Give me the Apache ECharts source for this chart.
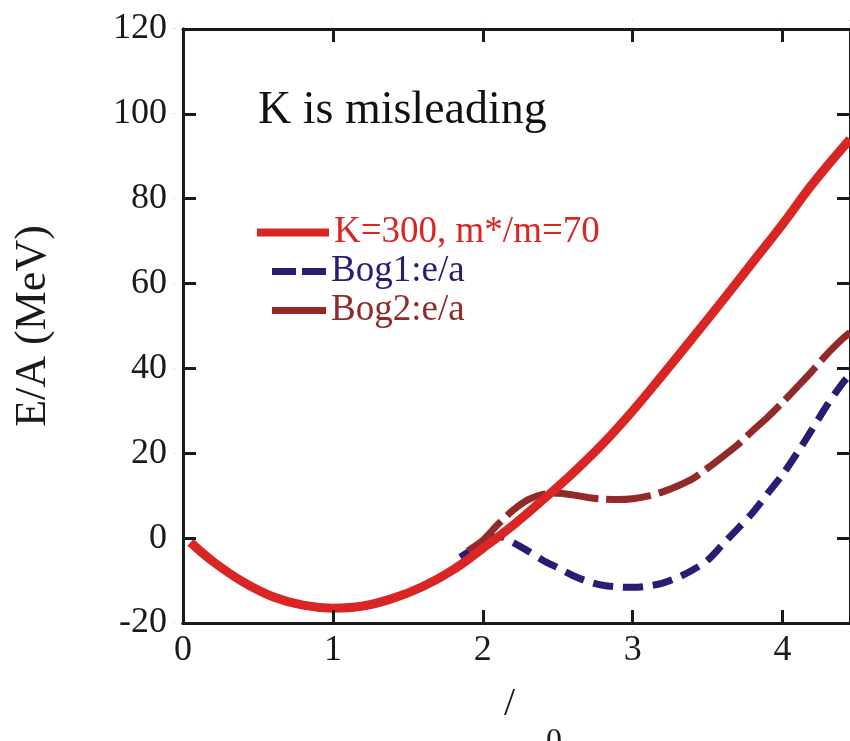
<!DOCTYPE html>
<html>
<head>
<meta charset="utf-8">
<script src="https://cdn.jsdelivr.net/npm/echarts@6/dist/echarts.min.js"></script>
<style>
  html, body { margin: 0; padding: 0; background: #fff; }
  #chart { width: 850px; height: 741px; }
</style>
</head>
<body>
<div id="chart"></div>
<script>
// Energy per nucleon vs. density ratio
const redName = 'K=300, m*/m=70';
const blueName = 'Bog1:e/a';
const brownName = 'Bog2:e/a';

const redX = [0.05, 0.2, 0.4, 0.6, 0.8, 1.0, 1.2, 1.4, 1.6, 1.8, 2.0, 2.2, 2.4, 2.6, 2.8, 3.0, 3.2, 3.4, 3.6, 3.8, 4.0, 4.2, 4.45];
const redY = [-1.0, -5.5, -10.3, -13.8, -15.8, -16.5, -16.0, -14.2, -11.4, -7.5, -2.4, 3.0, 9.0, 15.3, 22.2, 30.0, 38.5, 47.2, 56.0, 65.0, 74.0, 83.5, 94.0];

const blueX = [1.85, 1.95, 2.05, 2.12, 2.2, 2.3, 2.4, 2.5, 2.6, 2.7, 2.8, 2.9, 3.0, 3.1, 3.2, 3.3, 3.4, 3.5, 3.6, 3.7, 3.8, 3.9, 4.0, 4.1, 4.2, 4.3, 4.4, 4.45];
const blueY = [-4.5, -2.2, 0.0, 0.3, -1.0, -3.0, -5.2, -7.0, -8.8, -10.2, -11.1, -11.5, -11.6, -11.3, -10.6, -9.3, -7.5, -5.2, -1.5, 2.2, 6.0, 10.5, 15.0, 20.2, 25.8, 31.5, 36.5, 38.5];

const brownX = [1.9, 2.0, 2.1, 2.2, 2.3, 2.4, 2.5, 2.6, 2.7, 2.8, 2.9, 3.0, 3.1, 3.2, 3.3, 3.4, 3.5, 3.6, 3.7, 3.8, 3.9, 4.0, 4.1, 4.2, 4.3, 4.4, 4.45];
const brownY = [-3.0, -0.5, 3.2, 6.5, 9.0, 10.3, 10.6, 10.2, 9.6, 9.2, 9.1, 9.3, 9.9, 10.9, 12.3, 14.0, 16.5, 19.2, 22.0, 25.3, 28.5, 32.0, 35.7, 39.5, 43.5, 47.0, 48.5];

const xTicks = [0, 1, 2, 3, 4];
const yTicks = [-20, 0, 20, 40, 60, 80, 100, 120];

const RED = '#d92624';
const BLUE = '#2a1b73';
const BROWN = '#922a2a';
const INK = '#1a1a1a';
const SERIF = '"Liberation Serif", "Times New Roman", serif';

const pairs = (xs, ys) => xs.map((x, i) => [x, ys[i]]);

const xMin = xTicks[0];
const xMax = 4.45;
const yMin = yTicks[0];
const yMax = yTicks[yTicks.length - 1];

// plot frame in pixels
const GRID = { left: 183, right: 0, top: 29, bottom: 118 };
const W = 850, H = 741;
const plotW = W - GRID.left - GRID.right;
const plotH = H - GRID.top - GRID.bottom;

// inward tick marks on all four sides of the frame
const TICK_PX = 13;
const tickDx = TICK_PX * (xMax - xMin) / plotW;
const tickDy = TICK_PX * (yMax - yMin) / plotH;
const innerX = xTicks.filter(v => v > xMin && v < xMax);
const innerY = yTicks.filter(v => v > yMin && v < yMax);
const frameTicks = [
  ...innerX.map(v => [{ coord: [v, yMin] }, { coord: [v, yMin + tickDy] }]),
  ...innerX.map(v => [{ coord: [v, yMax] }, { coord: [v, yMax - tickDy] }]),
  ...innerY.map(v => [{ coord: [xMin, v] }, { coord: [xMin + tickDx, v] }]),
  ...innerY.map(v => [{ coord: [xMax, v] }, { coord: [xMax - tickDx, v] }])
];

const axisLine = () => ({ show: true, onZero: false, lineStyle: { color: INK, width: 3 } });
const tickInside = () => ({ show: true, inside: true, length: TICK_PX, lineStyle: { color: INK, width: 3 } });

// frame axes that carry the inward ticks (their own labels are kept tiny)
const tickXAxis = position => ({
  type: 'value', position: position, min: xMin, max: xMax, interval: 1,
  axisLine: axisLine(), axisTick: tickInside(), splitLine: { show: false },
  axisLabel: { show: true, fontSize: 1 }
});
const tickYAxis = position => ({
  type: 'value', position: position, min: yMin, max: yMax, interval: 20,
  axisLine: axisLine(), axisTick: tickInside(), splitLine: { show: false },
  axisLabel: { show: true, fontSize: 1 }
});

const chart = echarts.init(document.getElementById('chart'));

// legend entries drawn as short bars / dashes
const legendEntry = (name, left, top, width, height, icon, color) => ({
  data: [name], left: left, top: top, itemWidth: width, itemHeight: height,
  icon: icon, padding: 0, orient: 'vertical', itemGap: 0,
  textStyle: { color: color, fontFamily: SERIF, fontSize: 37 }
});

chart.setOption({
  animation: false,
  grid: Object.assign({ outerBoundsMode: 'none' }, GRID),
  title: [
    {
      text: 'K is misleading', left: 258, top: 88, padding: 0,
      textStyle: { color: '#111', fontFamily: SERIF, fontSize: 46, fontWeight: 'normal' }
    },
    {
      text: '/', left: 504, top: 684, padding: 0,
      textStyle: { color: INK, fontFamily: SERIF, fontSize: 40, fontWeight: 'normal' }
    },
    {
      text: '0', left: 546, top: 726, padding: 0,
      textStyle: { color: INK, fontFamily: SERIF, fontSize: 32, fontWeight: 'normal' }
    }
  ],
  xAxis: [
    {
      type: 'value', position: 'bottom', min: xMin, max: xMax, interval: 1,
      axisLine: axisLine(), axisTick: { show: false }, splitLine: { show: false },
      axisLabel: {
        show: true, margin: 10, color: INK, fontFamily: SERIF, fontSize: 36,
        formatter: v => (xTicks.includes(v) ? String(v) : '')
      }
    },
    tickXAxis('top'),
    tickXAxis('bottom')
  ],
  yAxis: [
    {
      type: 'value', position: 'left', min: yMin, max: yMax, interval: 20,
      axisLine: axisLine(), axisTick: { show: false }, splitLine: { show: false },
      axisLabel: { show: true, margin: 16, color: INK, fontFamily: SERIF, fontSize: 36 },
      name: 'E/A (MeV)', nameLocation: 'middle', nameGap: 128, nameRotate: 90,
      nameTextStyle: { color: INK, fontFamily: SERIF, fontSize: 44 }
    },
    tickYAxis('right'),
    tickYAxis('left')
  ],
  legend: [
    legendEntry(redName, 257, 214, 72, 8, 'path://M0 0H72V8H0Z', RED),
    legendEntry(blueName, 272, 253, 54, 7, 'path://M0 0H24V7H0ZM30 0H54V7H30Z', BLUE),
    legendEntry(brownName, 272, 292, 54, 7, 'path://M0 0H54V7H0Z', BROWN)
  ],
  series: [
    {
      name: blueName, type: 'line', data: pairs(blueX, blueY), smooth: 0.3,
      symbol: 'none',
      lineStyle: { color: BLUE, width: 7, type: [20, 10], cap: 'butt' },
      itemStyle: { color: BLUE }
    },
    {
      name: brownName, type: 'line', data: pairs(brownX, brownY), smooth: 0.3,
      symbol: 'none',
      lineStyle: { color: BROWN, width: 7, type: [45, 8], cap: 'butt' },
      itemStyle: { color: BROWN }
    },
    {
      name: redName, type: 'line', data: pairs(redX, redY), smooth: 0.4,
      symbol: 'none',
      lineStyle: { color: RED, width: 9 },
      itemStyle: { color: RED },
      markLine: {
        silent: true, animation: false, symbol: ['none', 'none'],
        label: { show: false },
        lineStyle: { color: INK, width: 3, type: 'solid', cap: 'butt' },
        emphasis: { disabled: true },
        data: frameTicks
      }
    }
  ]
});
</script>
</body>
</html>
